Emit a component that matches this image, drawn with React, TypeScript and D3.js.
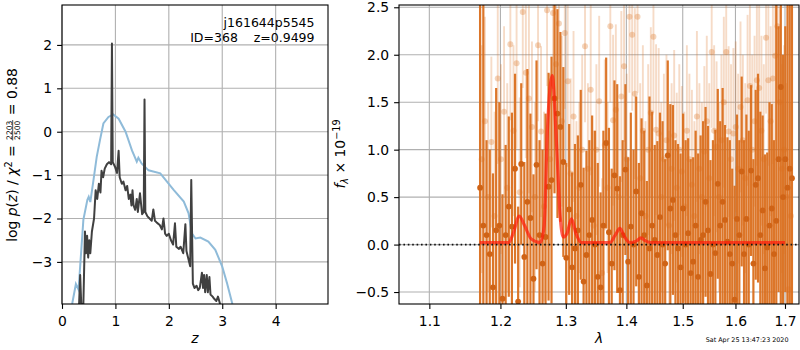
import { useEffect, useRef } from 'react';
import * as d3 from 'd3';

const FONT = '"DejaVu Sans", sans-serif';

// left panel: chi2 curve (blue) and log p(z) (dark)
const chiZ = [0.19, 0.26, 0.31, 0.4, 0.475, 0.5, 0.53, 0.59, 0.65, 0.71, 0.775, 0.87, 0.96, 1.06, 1.19, 1.31, 1.4, 1.43, 1.49, 1.62, 1.84, 2.09, 2.28, 2.37, 2.43, 2.5, 2.59, 2.74, 2.87, 3.0, 3.09, 3.19];
const chiV = [-3.97, -3.51, -3.64, -2.03, -1.57, -1.5, -1.62, -1.11, -0.58, -0.2, 0.19, 0.34, 0.4, 0.3, 0.0, -0.43, -0.69, -0.6, -0.73, -0.89, -0.96, -1.34, -1.61, -1.88, -2.34, -2.46, -2.44, -2.53, -2.72, -3.11, -3.49, -3.97];

const pzZ = [0.32, 0.34, 0.36, 0.4, 0.43, 0.45, 0.47, 0.49, 0.51, 0.53, 0.56, 0.6, 0.63, 0.66, 0.69, 0.72, 0.74, 0.77, 0.8, 0.84, 0.88, 0.92, 0.935, 0.95, 0.99, 1.03, 1.06, 1.08, 1.12, 1.15, 1.19, 1.22, 1.25, 1.28, 1.3, 1.32, 1.34, 1.37, 1.4, 1.42, 1.46, 1.5, 1.53, 1.545, 1.56, 1.6, 1.64, 1.68, 1.71, 1.74, 1.78, 1.83, 1.87, 1.9, 1.93, 1.96, 2.0, 2.04, 2.08, 2.115, 2.14, 2.19, 2.22, 2.27, 2.31, 2.33, 2.36, 2.4, 2.42, 2.45, 2.48, 2.52, 2.55, 2.58, 2.62, 2.64, 2.66, 2.68, 2.71, 2.73, 2.76, 2.78, 2.82, 2.85, 2.89, 2.92, 2.96];
const pzV = [-3.97, -3.3, -3.97, -3.97, -2.3, -2.8, -2.4, -2.9, -2.5, -2.8, -2.3, -2.0, -1.35, -1.55, -1.2, -1.4, -0.9, -1.05, -0.85, -0.75, -0.7, -0.75, 2.03, -0.7, -0.8, -0.95, -0.44, -1.05, -1.2, -1.15, -1.35, -1.25, -1.55, -1.45, -1.7, -1.35, -1.7, -1.8, -1.55, -1.85, -1.42, -1.9, -1.85, 0.74, -1.85, -1.95, -2.0, -2.05, -1.79, -2.05, -2.1, -2.15, -2.25, -2.0, -2.35, -2.4, -2.35, -2.5, -2.6, -2.11, -2.65, -2.7, -2.65, -2.8, -2.13, -2.75, -2.9, -3.1, -1.11, -3.5, -3.6, -3.55, -3.65, -3.6, -3.25, -3.6, -3.3, -3.7, -3.3, -3.7, -3.35, -3.75, -3.8, -3.85, -3.9, -3.8, -3.97];

// right panel: spectrum on the grism pixel grid
const LAM_START = 1.1705;
const LAM_STEP = 0.00465;

const darkFlux = [
  0.6, 0.2, 0.1, -0.1, -0.45, 0.15, 0.2, -0.57, 0.1, 0.4,
  0.19, 0.8, -0.6, 0.85, -0.13, 0.45, 0.28, -0.36, 0.84, 0.1,
  -0.2, 0.08, 0.61, 0.68, 1.54, 1.38, 1.24, 0.87, -0.14, 0.37,
  -0.24, -0.04, 0.15, 0.63, -0.39, -0.11, 0.1, 0.26, 0.0, -0.34,
  -0.45, 0.2, 1.07, 0.13, -0.2, 0.73, 0.59, -0.48, 0.1, 0.79,
  -0.18, 0.19, 0.0, 0.56, -0.34, 0.33, 0.1, -0.43, -0.04, 0.2,
  0.05, -0.11, 0.29, 0.0, -0.2, 0.94, 0.38, 0.47, 0.1, -0.04,
  -0.24, 0.38, 0.0, 0.12, -0.3, -0.18, 0.2, -0.34, 0.05, 0.1,
  0.45, 0.15, -0.31, 0.0, -0.09, 0.64, 0.2, 0.45, 0.26, 0.03,
  -0.1, -0.2, -0.58, 0.27, 0.1, 0.77, -0.1, 0.27, 0.0, 0.78,
  -0.2, 0.63, 0.7, 0.1, 0.36, -0.25, -0.03, 0.2, 0.38, -0.1,
  0.25, 0.9, 1.66, 0.5, 0.9, 0.6, 0.8, 0.7,
];
const darkErr = [
  5, 5, 1.0, 1.1, 1.2, 1.5, 1.3, 1.1, 0.95, 0.95,
  1.2, 1.0, 1.0, 0.85, 1.0, 1.4, 1.1, 1.1, 1.1, 1.0,
  1.2, 1.3, 1.2, 1.3, 1.0, 1.1, 1.0, 1.0, 1.0, 0.9,
  1.0, 1.1, 1.0, 1.0, 1.2, 1.1, 1.0, 1.1, 1.2, 1.2,
  1.0, 1.0, 0.9, 1.1, 1.0, 1.0, 1.1, 1.2, 1.0, 0.9,
  1.1, 1.2, 1.0, 1.0, 1.2, 1.0, 1.1, 1.1, 1.6, 1.2,
  1.0, 1.2, 1.1, 1.3, 1.1, 1.0, 1.1, 1.0, 1.0, 1.1,
  1.2, 1.0, 1.1, 1.0, 1.2, 1.1, 1.0, 1.3, 1.1, 1.2,
  1.0, 1.1, 1.2, 1.1, 1.3, 1.0, 1.1, 1.2, 1.0, 1.1,
  1.2, 1.0, 1.2, 1.1, 1.0, 1.0, 1.2, 1.1, 1.2, 0.9,
  1.1, 1.0, 1.1, 1.3, 1.0, 1.2, 1.0, 1.3, 1.1, 1.2,
  5, 1.4, 5, 1.5, 1.4, 5, 5, 5,
];

const lightFlux = [
  0.9, 1.3, 0.5, 1.08, 0.3, 1.75, 0.9, 1.4, 0.6, 2.11,
  1.2, 1.91, 0.55, 2.45, 1.81, 1.54, 1.24, 0.5, 2.1, 1.19,
  0.4, 2.47, 0.9, 2.44, 1.9, 2.33, 1.3, 2.23, 1.72, 0.75,
  1.35, 0.3, 0.6, 1.0, 2.09, 0.8, 1.63, 0.2, 1.0, 1.51,
  -0.3, 1.05, 0.6, 2.3, 1.31, 1.42, 0.5, 1.56, 1.88, 0.9,
  2.4, 2.21, 1.59, 2.4, 0.7, 1.2, 0.3, 1.0, 1.39, 2.19,
  1.21, 1.17, 0.5, 0.9, 1.1, 0.2, 0.8, 1.15, 0.6, 1.0,
  0.77, 0.4, 1.2, 0.9, 0.63, 0.3, 1.35, 0.8, 0.5, 0.98,
  1.3, 0.7, 2.03, 1.2, 1.03, 0.5, 1.1, 1.5, 2.03, 1.19,
  0.9, 1.17, 1.24, 0.8, 1.45, 1.1, 0.7, 1.52, 1.67, 1.0,
  1.3, 1.73, 1.65, 1.2, 0.9, 2.18, 1.73, 1.3, 1.75, 1.99,
  2.3, 1.5, 0.8, 1.0, 0.5, -0.47, 0.3,
];
const lightErr = [
  1.2, 1.1, 1.0, 0.9, 1.1, 0.9, 1.0, 0.9, 1.1, 0.8,
  0.9, 0.9, 1.0, 0.8, 0.9, 1.0, 0.9, 1.0, 0.8, 0.9,
  1.0, 0.8, 0.9, 0.8, 0.9, 0.8, 0.9, 0.8, 0.9, 1.0,
  0.9, 1.0, 0.9, 1.0, 0.8, 0.9, 0.9, 1.0, 0.9, 0.9,
  1.0, 0.9, 0.9, 0.8, 0.9, 0.9, 1.0, 0.9, 0.8, 0.9,
  0.8, 0.8, 0.9, 0.8, 1.0, 0.9, 1.0, 0.9, 0.9, 0.8,
  0.9, 0.9, 1.0, 0.9, 0.9, 1.0, 0.9, 0.9, 1.0, 0.9,
  0.9, 1.0, 0.9, 0.9, 1.0, 1.0, 0.9, 0.9, 1.0, 0.9,
  0.9, 1.0, 0.8, 0.9, 0.9, 1.0, 0.9, 0.9, 0.8, 0.9,
  1.0, 0.9, 0.9, 1.0, 0.9, 0.9, 1.0, 0.9, 0.9, 1.0,
  0.9, 0.9, 0.9, 1.0, 1.0, 0.8, 0.9, 1.0, 0.9, 0.9,
  0.8, 1.0, 1.1, 1.1, 1.2, 1.0, 1.2,
];

// best-fit line model
const modelLam = [1.17, 1.212, 1.219, 1.228, 1.236, 1.246, 1.26, 1.266, 1.271, 1.2785, 1.285, 1.291, 1.296, 1.302, 1.309, 1.316, 1.325, 1.372, 1.381, 1.389, 1.397, 1.406, 1.418, 1.425, 1.433, 1.443, 1.70];
const modelFlux = [0.02, 0.02, 0.12, 0.3, 0.2, 0.06, 0.02, 0.2, 1.2, 1.78, 1.1, 0.3, 0.08, 0.12, 0.27, 0.12, 0.02, 0.02, 0.1, 0.17, 0.08, 0.02, 0.04, 0.07, 0.04, 0.02, 0.02];

const leftXTicks = [0, 1, 2, 3, 4];
const leftYTicks = [-3, -2, -1, 0, 1, 2];
const rightXTicks = [1.1, 1.2, 1.3, 1.4, 1.5, 1.6, 1.7];
const rightYTicks = [-0.5, 0, 0.5, 1, 1.5, 2, 2.5];

const ORANGE = '#da6f1e';

type Piece = { t?: string; size: number; dy?: number; italic?: boolean; frac?: [string, string] };

const App = () => {
  const svgRef = useRef<SVGSVGElement>(null);

  useEffect(() => {
    if (!svgRef.current) return;
    const svg = d3.select(svgRef.current);
    svg.selectAll('*').remove();

    const defs = svg.append('defs');

    const drawFrame = (
      id: string,
      x: any,
      y: any,
      xTicks: number[],
      yTicks: number[],
      xFmt: (d: any) => string,
      yFmt: (d: any) => string,
    ) => {
      const [x0, x1] = x.range();
      const [y0, y1] = y.range();
      defs.append('clipPath').attr('id', id).append('rect')
        .attr('x', x0).attr('y', y1).attr('width', x1 - x0).attr('height', y0 - y1);

      const grid = svg.append('g');
      xTicks.forEach((t) => {
        grid.append('line').attr('x1', x(t)).attr('x2', x(t)).attr('y1', y1).attr('y2', y0)
          .attr('stroke', '#b0b0b0').attr('stroke-width', 1.1);
      });
      yTicks.forEach((t) => {
        grid.append('line').attr('x1', x0).attr('x2', x1).attr('y1', y(t)).attr('y2', y(t))
          .attr('stroke', '#b0b0b0').attr('stroke-width', 1.1);
      });

      const plot = svg.append('g').attr('clip-path', `url(#${id})`);

      const finish = () => {
        const xa = svg.append('g').attr('transform', `translate(0,${y0})`)
          .call(d3.axisBottom(x).tickValues(xTicks).tickFormat(xFmt).tickSize(4.9).tickPadding(7).tickSizeOuter(0));
        const ya = svg.append('g').attr('transform', `translate(${x0},0)`)
          .call(d3.axisLeft(y).tickValues(yTicks).tickFormat(yFmt).tickSize(4.9).tickPadding(4.9).tickSizeOuter(0));
        [xa, ya].forEach((a) => {
          a.select('.domain').remove();
          a.selectAll('line').attr('stroke', '#000').attr('stroke-width', 1.1);
          a.selectAll('text').attr('font-family', FONT).attr('font-size', 13.9).attr('fill', '#000');
        });
        svg.append('rect').attr('x', x0).attr('y', y1).attr('width', x1 - x0).attr('height', y0 - y1)
          .attr('fill', 'none').attr('stroke', '#000').attr('stroke-width', 1.1);
      };
      return { plot, finish };
    };

    // rotated label made of pieces, centred on (cx, cy), baseline at cx
    const rotLabel = (cx: number, cy: number, pieces: Piece[]) => {
      const outer = svg.append('g').attr('transform', `translate(${cx},${cy}) rotate(-90)`);
      const g = outer.append('g');
      let s = 0;
      pieces.forEach((p) => {
        if (p.frac) {
          const num = g.append('text').attr('font-family', FONT).attr('font-size', p.size).attr('y', -5.3).text(p.frac[0]);
          const den = g.append('text').attr('font-family', FONT).attr('font-size', p.size).attr('y', 2.8).text(p.frac[1]);
          const w = Math.max((num.node() as SVGTextElement).getComputedTextLength(), (den.node() as SVGTextElement).getComputedTextLength()) + 2;
          num.attr('x', s + w / 2).attr('text-anchor', 'middle');
          den.attr('x', s + w / 2).attr('text-anchor', 'middle');
          g.append('line').attr('x1', s + 0.5).attr('x2', s + w - 0.5).attr('y1', -4.3).attr('y2', -4.3)
            .attr('stroke', '#000').attr('stroke-width', 0.7);
          s += w;
        } else {
          const t = g.append('text').attr('font-family', FONT).attr('font-size', p.size)
            .attr('x', s).attr('y', p.dy || 0).style('white-space', 'pre')
            .attr('font-style', p.italic ? 'italic' : 'normal').text(p.t || '');
          s += (t.node() as SVGTextElement).getComputedTextLength();
        }
      });
      g.attr('transform', `translate(${-s / 2},0)`);
    };

    // ---------- left panel ----------
    const xL = d3.scaleLinear().domain([0, 4.98]).range([62, 328]);
    const yL = d3.scaleLinear().domain([-3.97, 2.92]).range([304, 5]);
    const left = drawFrame('clipL', xL, yL, leftXTicks, leftYTicks, d3.format('d'), d3.format('d'));

    const lineL = d3.line<[number, number]>().x((d) => xL(d[0])).y((d) => yL(d[1]));
    left.plot.append('path')
      .attr('d', lineL(chiZ.map((z, i) => [z, chiV[i]] as [number, number])))
      .attr('fill', 'none').attr('stroke', '#8fbbd9').attr('stroke-width', 2);
    left.plot.append('path')
      .attr('d', lineL(pzZ.map((z, i) => [z, pzV[i]] as [number, number])))
      .attr('fill', 'none').attr('stroke', '#404040').attr('stroke-width', 2).attr('stroke-linejoin', 'round');
    left.finish();

    svg.append('text').attr('x', 314.5).attr('y', 26.5).attr('text-anchor', 'end')
      .attr('font-family', FONT).attr('font-size', 12.5).text('j161644p5545');
    svg.append('text').attr('x', 314.5).attr('y', 41.5).attr('text-anchor', 'end').style('white-space', 'pre')
      .attr('font-family', FONT).attr('font-size', 12.5).text('ID=368    z=0.9499');

    svg.append('text').attr('x', 195).attr('y', 343).attr('text-anchor', 'middle')
      .attr('font-family', FONT).attr('font-size', 13.9).attr('font-style', 'italic').text('z');

    rotLabel(17, 155, [
      { t: 'log ', size: 13.9 },
      { t: 'p', size: 13.9, italic: true },
      { t: '(', size: 13.9 },
      { t: 'z', size: 13.9, italic: true },
      { t: ') / ', size: 13.9 },
      { t: 'χ', size: 13.9, italic: true },
      { t: '2', size: 9.7, dy: -5.5 },
      { t: ' = ', size: 13.9 },
      { frac: ['2203', '2500'], size: 7.6 },
      { t: ' = 0.88', size: 13.9 },
    ]);

    // ---------- right panel ----------
    const xR = d3.scaleLog().domain([1.0599, 1.7294]).range([399, 799]);
    const yR = d3.scaleLinear().domain([-0.626, 2.524]).range([304, 5]);
    const right = drawFrame('clipR', xR, yR, rightXTicks, rightYTicks, d3.format('.1f'), d3.format('.1f'));

    const lamDark = darkFlux.map((_, i) => LAM_START + i * LAM_STEP);
    const lamLight = lightFlux.map((_, i) => LAM_START + (i + 0.5) * LAM_STEP);

    const lightG = right.plot.append('g');
    lightFlux.forEach((f, i) => {
      const xp = xR(lamLight[i]);
      lightG.append('line').attr('x1', xp).attr('x2', xp)
        .attr('y1', yR(f - lightErr[i])).attr('y2', yR(f + lightErr[i]))
        .attr('stroke', ORANGE).attr('stroke-opacity', 0.25).attr('stroke-width', 1.9);
      lightG.append('circle').attr('cx', xp).attr('cy', yR(f)).attr('r', 3)
        .attr('fill', ORANGE).attr('fill-opacity', 0.3);
    });

    const darkG = right.plot.append('g');
    darkFlux.forEach((f, i) => {
      const xp = xR(lamDark[i]);
      darkG.append('line').attr('x1', xp).attr('x2', xp)
        .attr('y1', yR(f - darkErr[i])).attr('y2', yR(f + darkErr[i]))
        .attr('stroke', ORANGE).attr('stroke-opacity', 0.95).attr('stroke-width', 2.2);
    });
    darkFlux.forEach((f, i) => {
      darkG.append('circle').attr('cx', xR(lamDark[i])).attr('cy', yR(f)).attr('r', 2.9)
        .attr('fill', '#cf6316');
    });

    const modelLine = d3.line<[number, number]>()
      .x((d) => xR(d[0])).y((d) => yR(d[1])).curve(d3.curveMonotoneX);
    right.plot.append('path')
      .attr('d', modelLine(modelLam.map((l, i) => [l, modelFlux[i]] as [number, number])))
      .attr('fill', 'none').attr('stroke', '#ff1a0a').attr('stroke-opacity', 0.7).attr('stroke-width', 3.2);

    right.plot.append('line').attr('x1', 399).attr('x2', 799).attr('y1', yR(0)).attr('y2', yR(0))
      .attr('stroke', '#111').attr('stroke-width', 1.6).attr('stroke-dasharray', '1.6,2.8');
    right.finish();

    svg.append('text').attr('x', 599).attr('y', 343).attr('text-anchor', 'middle')
      .attr('font-family', FONT).attr('font-size', 13.9).attr('font-style', 'italic').text('λ');

    rotLabel(345, 154, [
      { t: 'f', size: 13.9, italic: true },
      { t: 'λ', size: 9.7, dy: 3, italic: true },
      { t: ' × 10', size: 13.9 },
      { t: '−19', size: 9.7, dy: -5.5 },
    ]);

    svg.append('text').attr('x', 788.5).attr('y', 342).attr('text-anchor', 'end')
      .attr('font-family', FONT).attr('font-size', 6.4).text('Sat Apr 25 13:47:23 2020');
  }, []);

  return (
    <svg
      ref={svgRef}
      width={800}
      height={350}
      style={{ position: 'absolute', left: 0, top: 0, background: '#fff' }}
    />
  );
};

export default App;
